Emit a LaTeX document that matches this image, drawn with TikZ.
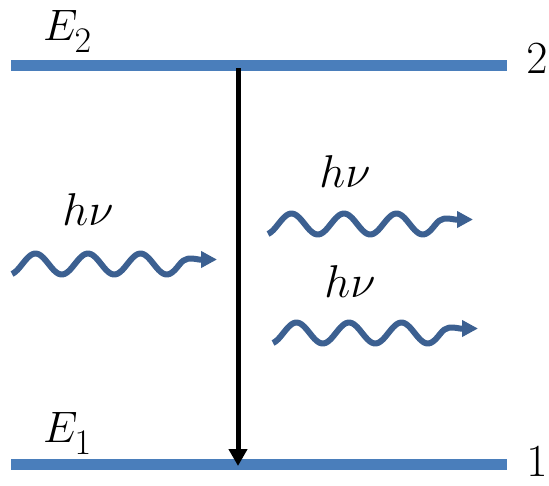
\RequirePackage{fix-cm}
\documentclass[tikz,border=0pt]{standalone}
\usetikzlibrary{arrows.meta}
\definecolor{levelblue}{RGB}{74,126,187}
\definecolor{waveblue}{RGB}{60,96,145}
\tikzset{
  level/.style={levelblue, line width=11pt, line cap=butt},
  transition/.style={black, line width=5pt, -{Triangle[length=17pt,width=18pt]}},
  photon/.style={waveblue, line width=6pt, line cap=butt, line join=round, -{Triangle[length=16pt,width=16pt]}},
  lbl/.style={inner sep=0pt, font=\fontsize{46}{50}\selectfont, anchor=base},
  elbl/.style={inner sep=0pt, font=\fontsize{44}{50}\selectfont, anchor=base west},
}
\newcommand{\energylabel}[1]{$E$\kern-3pt\raisebox{-12pt}{\fontsize{36}{40}\selectfont$#1$}}
\newcommand{\photonwave}[2]{%
  \begin{scope}[shift={(#1,#2)}]
    \draw[photon] plot[domain=0:167, samples=90, smooth] (\x, {-10.5*cos(6.857*(\x-23.5))})
      .. controls (173,-7) and (178,-6) .. (187,-4.5) -- (205,-4.5);
  \end{scope}}
\begin{document}
\begin{tikzpicture}[x=1pt, y=-1pt]
  \useasboundingbox (0,0) rectangle (549,485);
  % energy levels
  \coordinate (L2a) at (11,65);
  \coordinate (L2b) at (507,65);
  \coordinate (L1a) at (11,464);
  \coordinate (L1b) at (507,464);
  \draw[level] (L2a) -- (L2b);
  \draw[level] (L1a) -- (L1b);
  % transition arrow
  \coordinate (t) at (238,68);
  \coordinate (b) at (238,466);
  \draw[transition] (t) -- (b);
  % labels
  \node[elbl] (e2) at (43,40) {\energylabel{2}};
  \node[lbl] (n2) at (537,73) {$2$};
  \node[elbl] (e1) at (43,442) {\energylabel{1}};
  \node[lbl] (n1) at (537,476) {$1$};
  \node[lbl] (hv1) at (88,225) {$h\nu$};
  \node[lbl] (hv2) at (345,187) {$h\nu$};
  \node[lbl] (hv3) at (350,297) {$h\nu$};
  % photons
  \photonwave{12}{264}
  \photonwave{268}{224}
  \photonwave{273}{333}
\end{tikzpicture}
\end{document}
